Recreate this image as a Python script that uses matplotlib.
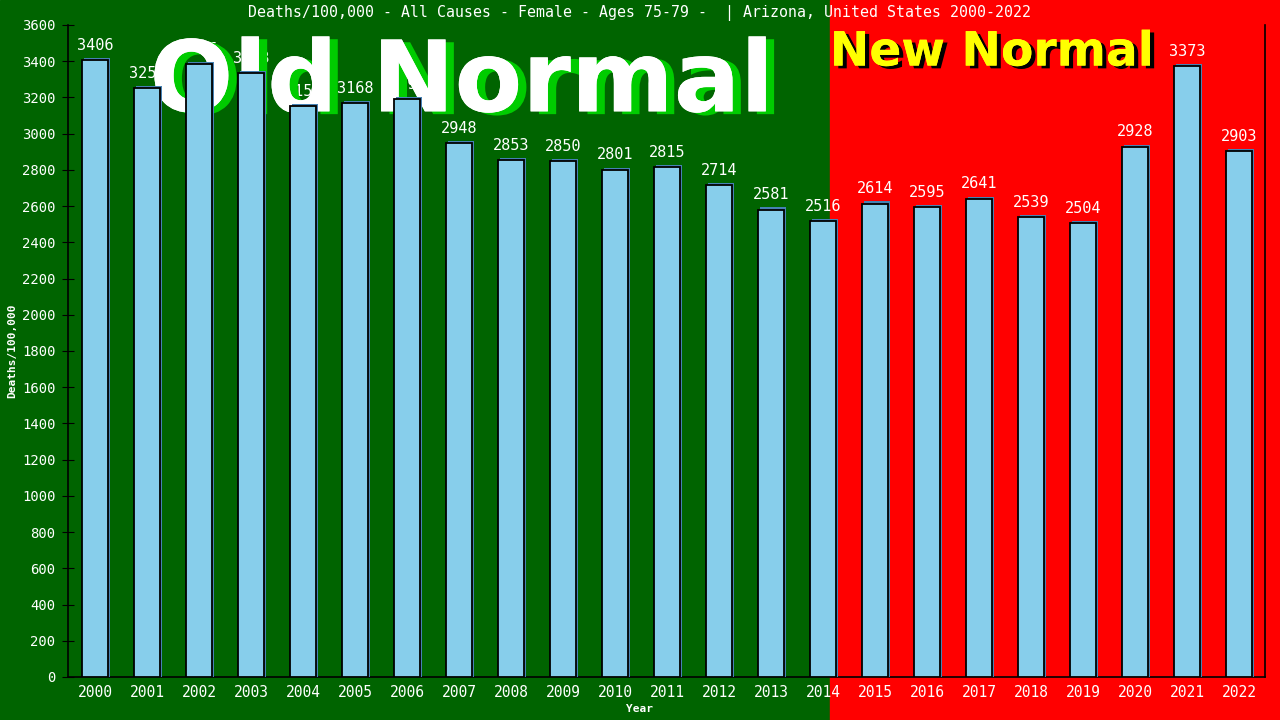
import matplotlib.pyplot as plt
import matplotlib.patheffects as pe
from matplotlib.patches import Rectangle

years = list(range(2000, 2023))
rates = [3406, 3252, 3385, 3333, 3151, 3168, 3191, 2948, 2853, 2850, 2801, 2815,
         2714, 2581, 2516, 2614, 2595, 2641, 2539, 2504, 2928, 3373, 2903]
title = "Deaths/100,000 - All Causes - Female - Ages 75-79 -  | Arizona, United States 2000-2022"

GREEN = "#006400"
RED = "#ff0000"
BAR = "#87ceeb"
MONO = "DejaVu Sans Mono"

fig = plt.figure(figsize=(12.8, 7.2), dpi=100)
split = 830 / 1280
fig.patches.append(Rectangle((0, 0), split, 1, transform=fig.transFigure,
                             color=GREEN, zorder=-10))
fig.patches.append(Rectangle((split, 0), 1 - split, 1, transform=fig.transFigure,
                             color=RED, zorder=-10))

ax = fig.add_axes([68 / 1280, 43 / 720, 1197 / 1280, 652 / 720])
ax.set_facecolor("none")
x = list(range(len(years)))

# shadow bars then main bars
ax.bar([i + 0.03 for i in x], [r + 12 for r in rates], width=0.5,
       color="#4682b4", zorder=3)
ax.bar(x, rates, width=0.5, color=BAR, edgecolor="black", linewidth=1.3, zorder=4)

for i, r in zip(x, rates):
    ax.text(i, r + 40, str(r), ha="center", va="bottom", color="white",
            fontsize=11, family=MONO, zorder=1)

ax.text(7.05, 3275, "Old Normal", ha="center", va="center", color="white",
        fontsize=71, fontweight="bold", family="DejaVu Sans", zorder=2,
        path_effects=[pe.withSimplePatchShadow(offset=(6, -2), shadow_rgbFace="#00cc00",
                                               alpha=1.0), pe.Normal()])
ax.text(17.25, 3445, "New Normal", ha="center", va="center", color="yellow",
        fontsize=34, fontweight="bold", family="DejaVu Sans", zorder=2,
        path_effects=[pe.withSimplePatchShadow(offset=(3, -2), shadow_rgbFace="black",
                                               alpha=1.0), pe.Normal()])

ax.set_xlim(-0.52, 22.5)
ax.set_ylim(0, 3600)
ax.set_xticks(x)
ax.set_xticklabels([str(y) for y in years], family=MONO, fontsize=10.5, color="white")
ax.set_yticks(range(0, 3601, 200))
ax.set_yticklabels([str(v) for v in range(0, 3601, 200)], family=MONO, fontsize=10,
                   color="white")
ax.tick_params(axis="x", length=0, pad=6)
ax.tick_params(axis="y", length=8, direction="inout", color="black", pad=5)
ax.spines["top"].set_visible(False)
for s in ("left", "bottom", "right"):
    ax.spines[s].set_color("black")
    ax.spines[s].set_linewidth(1.2)

fig.text(0.5, 1 - 709 / 720, "Year", ha="center", va="center", family=MONO,
         fontsize=8, fontweight="bold", color="white")
fig.text(12 / 1280, 1 - 351 / 720, "Deaths/100,000", ha="center", va="center",
         rotation=90, family=MONO, fontsize=8, fontweight="bold", color="white")

fig.text(0.5, 1 - 13 / 720, title, ha="center", va="center", color="white",
         fontsize=10.7, family=MONO)

fig.savefig("out.png", dpi=100)
